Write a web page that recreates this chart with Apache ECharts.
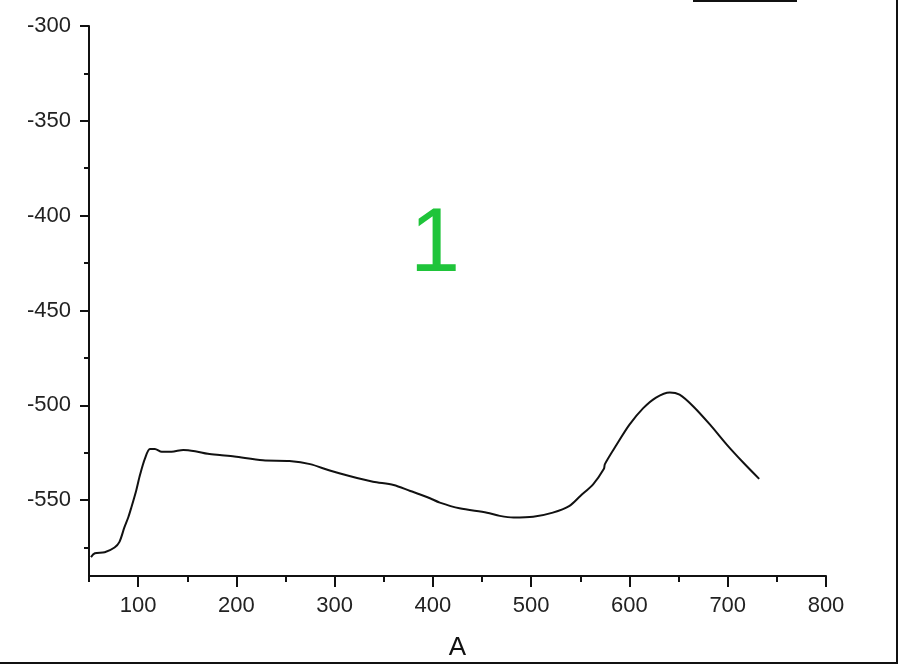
<!DOCTYPE html>
<html>
<head>
<meta charset="utf-8">
<title>A</title>
<script src="https://cdn.jsdelivr.net/npm/echarts@6/dist/echarts.min.js"></script>
<style>
  html, body { margin: 0; padding: 0; background: #fff; }
  #chart { width: 900px; height: 665px; }
</style>
</head>
<body>
<div id="chart"></div>
<script>
// values
var xValues = [52, 56, 66, 76, 81, 86, 90, 93, 98, 102, 107, 112, 117, 124, 134, 146, 158, 171, 185, 198,
  227, 254, 275, 295, 315, 339, 360, 377, 387, 397, 407, 427, 455, 468, 482, 502, 522, 539, 550, 563,
  574, 575, 587, 600, 614, 627, 641, 651, 665, 682, 699, 716, 732]
var yValues = [-580, -578, -577.5, -575, -572, -564.4, -559, -554, -545, -536.5, -528, -523, -523, -524.5, -524.5, -523.5, -524.2, -525.6, -526.3, -527,
  -529, -529.4, -531, -534.4, -537.3, -540.3, -542, -545.2, -547, -549, -551.3, -554.3, -556.6, -558.3, -559.2, -558.8, -556.6, -553, -547.8, -541.7,
  -533.5, -531, -520.7, -510.2, -501.5, -495.9, -493.2, -494.4, -500.6, -510.2, -520.7, -530.3, -538.8]

var xMajor = [100, 200, 300, 400, 500, 600, 700, 800]
var xMinor = [50, 150, 250, 350, 450, 550, 650, 750]
var yMajor = [-550, -500, -450, -400, -350, -300]
var yMinor = [-575, -525, -475, -425, -375, -325]

var chart = echarts.init(document.getElementById('chart'))

var font = 'Liberation Sans, Arial, sans-serif'
var seriesData = xValues.map(function (x, i) { return [x, yValues[i]] })

chart.setOption({
  animation: false,
  backgroundColor: '#fff',
  textStyle: { fontFamily: font },
  grid: {
    left: 89,
    right: 74,
    top: 26,
    bottom: 89,
    outerBoundsMode: 'none',
    containLabel: false
  },
  xAxis: [{
    type: 'value',
    min: 50,
    max: 800,
    position: 'bottom',
    name: 'A',
    nameLocation: 'middle',
    nameGap: 59,
    nameTextStyle: { fontSize: 26, color: '#111', fontFamily: font },
    axisLine: { onZero: false, lineStyle: { color: '#111', width: 2 } },
    axisTick: { customValues: xMajor, length: 11, lineStyle: { color: '#111', width: 2 } },
    axisLabel: { customValues: xMajor, fontSize: 22, color: '#222', margin: 19, fontFamily: font },
    splitLine: { show: false }
  }, {
    type: 'value',
    min: 50,
    max: 800,
    position: 'bottom',
    axisLine: { show: false, onZero: false },
    axisTick: { customValues: xMinor, length: 6, lineStyle: { color: '#111', width: 2 } },
    axisLabel: { show: false },
    splitLine: { show: false }
  }],
  yAxis: [{
    type: 'value',
    min: -590,
    max: -300,
    position: 'left',
    axisLine: { show: true, onZero: false, lineStyle: { color: '#111', width: 2 } },
    axisTick: { show: true, customValues: yMajor, length: 9, lineStyle: { color: '#111', width: 2 } },
    axisLabel: { customValues: yMajor, fontSize: 22, color: '#222', margin: 18, fontFamily: font },
    splitLine: { show: false }
  }, {
    type: 'value',
    min: -590,
    max: -300,
    position: 'left',
    axisLine: { show: false, onZero: false },
    axisTick: { show: true, customValues: yMinor, length: 5, lineStyle: { color: '#111', width: 2 } },
    axisLabel: { show: false },
    splitLine: { show: false }
  }],
  series: [{
    type: 'line',
    xAxisIndex: 0,
    yAxisIndex: 0,
    data: seriesData,
    showSymbol: false,
    smooth: 0.3,
    lineStyle: { color: '#111', width: 2 }
  }],
  graphic: [
    {
      type: 'text',
      left: 410,
      top: 201,
      style: { text: '1', fontSize: 90, fill: '#1fc43a', fontFamily: font }
    },
    // picture frame
    { type: 'line', shape: { x1: 0, y1: 663, x2: 898, y2: 663 }, style: { stroke: '#111', lineWidth: 2 } },
    { type: 'line', shape: { x1: 897, y1: 0, x2: 897, y2: 664 }, style: { stroke: '#111', lineWidth: 2 } },
    { type: 'line', shape: { x1: 693, y1: 0.5, x2: 797, y2: 0.5 }, style: { stroke: '#111', lineWidth: 3 } }
  ]
})
</script>
</body>
</html>
